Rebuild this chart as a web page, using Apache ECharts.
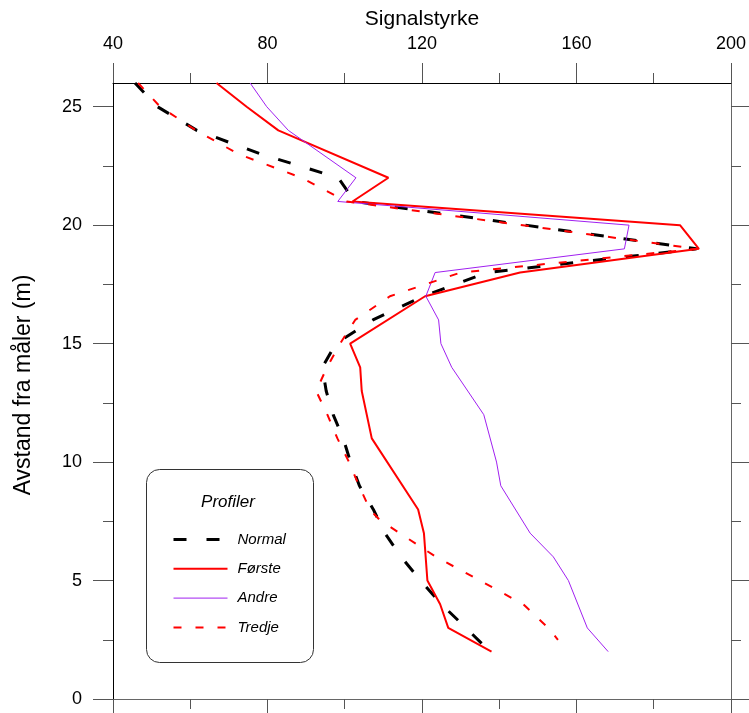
<!DOCTYPE html>
<html><head><meta charset="utf-8">
<script src="https://cdn.jsdelivr.net/npm/echarts@6/dist/echarts.min.js"></script>
<style>html,body{margin:0;padding:0;background:#fff}#c{width:749px;height:713px}</style>
</head><body><div id="c"></div>
<script>
// ---- data ----
const xTicks = [40, 80, 120, 160, 200];
const yTicks = [0, 5, 10, 15, 20, 25];
const yMinorTicks = [2.5, 7.5, 12.5, 17.5, 22.5];
const seriesNames = ['Normal', 'Første', 'Andre', 'Tredje'];
const legendTitle = 'Profiler';

const normalDepth  = [26, 25, 24, 23, 22, 21, 19, 18, 17, 16, 15, 14, 13, 12, 11, 10, 9, 8, 7, 6, 5, 4, 3, 2];
const normalSignal = [45.7, 51.5, 61.7, 78.3, 98.3, 102.6, 191.1, 136.8, 120.3, 107.3, 97.7, 94.2, 95.2, 97.0, 99.6, 101.5, 103.8, 107.4, 110.4, 114.6, 119.6, 125.0, 131.4, 137.6];

const forsteDepth  = [26, 25, 24, 22, 21, 20, 19, 18, 17, 15, 14, 13, 11, 8, 7, 5, 4, 3, 2];
const forsteSignal = [66.8, 74.6, 82.8, 111.3, 102.0, 186.8, 191.7, 145.4, 120.8, 101.4, 104.0, 104.4, 107.0, 119.0, 120.5, 121.4, 124.7, 126.8, 138.0];

const andreDepth  = [26, 25, 24, 22, 21, 20, 19, 18, 17, 16, 15, 14, 12, 10, 9, 7, 6, 5, 3, 2];
const andreSignal = [75.5, 79.8, 85.4, 102.9, 98.2, 173.6, 172.4, 123.4, 121.0, 124.3, 124.9, 127.7, 136.0, 139.3, 140.4, 148.0, 154.0, 157.9, 162.8, 168.2];

const tredjeDepth  = [26, 25, 24, 23, 22, 21, 19, 18, 17, 16, 15, 14, 13, 12, 11, 10, 9, 8, 7.55, 6, 5, 4, 3, 2.5];
const tredjeSignal = [46.5, 52.2, 61.5, 72.5, 88.8, 100.5, 191.1, 130.0, 111.7, 102.7, 98.8, 95.4, 92.6, 95.5, 98.1, 101.1, 103.7, 106.5, 109.1, 123.6, 135.0, 146.2, 152.7, 155.2];

// ---- chart ----
function pairs(vals, depths) { return vals.map((v, i) => [v, depths[i]]); }
const FONT = '"Liberation Sans", Arial, Helvetica, sans-serif';
const chart = echarts.init(document.getElementById('c'), null, { renderer: 'canvas' });

const gridRect = { left: 113, right: 18, top: 83, bottom: 14, containLabel: false };
const tickGrey = '#555';

const option = {
  animation: false,
  backgroundColor: '#fff',
  textStyle: { fontFamily: FONT },
  grid: [Object.assign({}, gridRect), Object.assign({}, gridRect)],
  xAxis: [
    {
      gridIndex: 0, type: 'value', position: 'top',
      min: xTicks[0], max: xTicks[xTicks.length - 1], interval: xTicks[1] - xTicks[0],
      axisLine: { show: true, onZero: false, lineStyle: { color: '#000', width: 1 } },
      axisTick: { show: true, inside: false, length: 20, lineStyle: { color: tickGrey } },
      minorTick: { show: true, splitNumber: 2, length: 10, lineStyle: { color: tickGrey } },
      splitLine: { show: false }, minorSplitLine: { show: false },
      axisLabel: { show: true, fontSize: 18, color: '#000', margin: 30, fontFamily: FONT },
      name: 'Signalstyrke', nameLocation: 'middle', nameGap: 52,
      nameTextStyle: { fontSize: 21, color: '#000', fontFamily: FONT }
    },
    {
      gridIndex: 0, type: 'value', position: 'bottom',
      min: xTicks[0], max: xTicks[xTicks.length - 1], interval: xTicks[1] - xTicks[0],
      axisLine: { show: true, onZero: false, lineStyle: { color: '#666', width: 1 } },
      axisTick: { show: true, inside: false, length: 20, lineStyle: { color: tickGrey } },
      minorTick: { show: true, splitNumber: 2, length: 10, lineStyle: { color: tickGrey } },
      splitLine: { show: false }, axisLabel: { show: false }
    },
    {
      gridIndex: 1, type: 'value', show: false,
      min: xTicks[0], max: xTicks[xTicks.length - 1], interval: xTicks[1] - xTicks[0],
      axisLine: { onZero: false }
    }
  ],
  yAxis: [
    {
      gridIndex: 0, type: 'value', position: 'left', min: 0, max: 26,
      axisLine: { show: true, onZero: false, lineStyle: { color: '#000', width: 1 } },
      axisTick: { show: true, inside: false, length: 20, customValues: yTicks, lineStyle: { color: tickGrey } },
      axisLabel: { show: true, customValues: yTicks, fontSize: 18, color: '#000', margin: 31, fontFamily: FONT },
      splitLine: { show: false },
      name: 'Avstand fra måler (m)', nameLocation: 'middle', nameGap: 78,
      nameTextStyle: { fontSize: 23, color: '#000', fontFamily: FONT, padding: [0, 0, 0, 12] }
    },
    {
      gridIndex: 0, type: 'value', position: 'right', min: 0, max: 26,
      axisLine: { show: true, onZero: false, lineStyle: { color: '#666', width: 1 } },
      axisTick: { show: true, inside: false, length: 20, customValues: yTicks, lineStyle: { color: tickGrey } },
      axisLabel: { show: false }, splitLine: { show: false }
    },
    {
      gridIndex: 1, type: 'value', position: 'left', min: 0, max: 26,
      axisLine: { show: false, onZero: false },
      axisTick: { show: true, inside: false, length: 10, customValues: yMinorTicks, lineStyle: { color: tickGrey } },
      axisLabel: { show: false }, splitLine: { show: false }
    },
    {
      gridIndex: 1, type: 'value', position: 'right', min: 0, max: 26,
      axisLine: { show: false, onZero: false },
      axisTick: { show: true, inside: false, length: 10, customValues: yMinorTicks, lineStyle: { color: tickGrey } },
      axisLabel: { show: false }, splitLine: { show: false }
    }
  ],
  legend: {
    show: true, orient: 'vertical', left: 167, top: 527,
    itemWidth: 54, itemHeight: 15, itemGap: 14.3, selectedMode: false,
    itemStyle: { opacity: 0, borderWidth: 0 },
    data: [
      { name: seriesNames[0], lineStyle: { width: 3 } },
      { name: seriesNames[1], lineStyle: { width: 2 } },
      { name: seriesNames[2], lineStyle: { width: 1 } },
      { name: seriesNames[3], lineStyle: { width: 2 } }
    ],
    textStyle: { fontSize: 15, fontStyle: 'italic', color: '#000', fontFamily: FONT, padding: [0, 0, 0, 5] }
  },
  graphic: [
    { type: 'rect', left: 144, top: 467, z: 0,
      shape: { width: 167, height: 193, r: 13 },
      style: { fill: 'none', stroke: '#333', lineWidth: 1 } },
    { type: 'text', x: 228, y: 502, z: 1,
      style: { text: legendTitle, font: 'italic 17px ' + FONT, fill: '#000', align: 'center', verticalAlign: 'middle' } }
  ],
  series: [
    { name: seriesNames[0], type: 'line', xAxisIndex: 0, yAxisIndex: 0, symbol: 'none',
      data: pairs(normalSignal, normalDepth),
      lineStyle: { color: '#000', width: 3, type: [13, 20] }, itemStyle: { color: '#000' } },
    { name: seriesNames[1], type: 'line', xAxisIndex: 0, yAxisIndex: 0, symbol: 'none',
      data: pairs(forsteSignal, forsteDepth),
      lineStyle: { color: '#ff0000', width: 2 }, itemStyle: { color: '#ff0000' } },
    { name: seriesNames[2], type: 'line', xAxisIndex: 0, yAxisIndex: 0, symbol: 'none',
      data: pairs(andreSignal, andreDepth),
      lineStyle: { color: '#a020f0', width: 1 }, itemStyle: { color: '#a020f0' } },
    { name: seriesNames[3], type: 'line', xAxisIndex: 0, yAxisIndex: 0, symbol: 'none',
      data: pairs(tredjeSignal, tredjeDepth),
      lineStyle: { color: '#ff0000', width: 2, type: [8, 14] }, itemStyle: { color: '#ff0000' } }
  ]
};
chart.setOption(option);
</script>
</body></html>
